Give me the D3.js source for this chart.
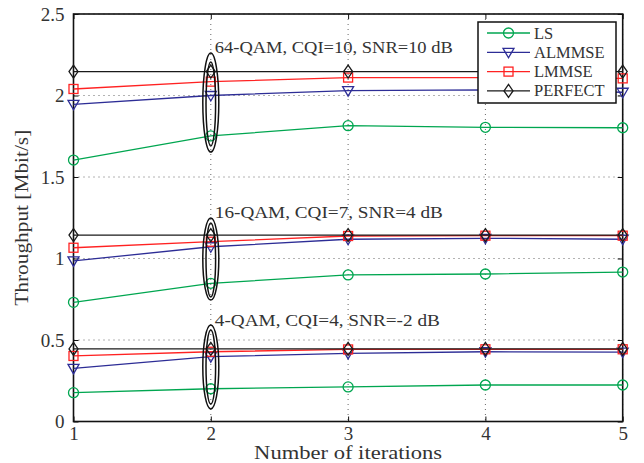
<!DOCTYPE html>
<html>
<head>
<meta charset="utf-8">
<script src="https://cdn.jsdelivr.net/npm/d3@7"></script>
<style>
html,body{margin:0;padding:0;background:#fff;}
svg{display:block;}
text{font-family:"Liberation Serif","Times New Roman",serif;fill:#333;}
</style>
</head>
<body>
<svg id="chart" width="644" height="463"></svg>
<script>
// ---- data ----
const iterations = [1, 2, 3, 4, 5];
const xTicks = [1, 2, 3, 4, 5];
const yTicks = [0, 0.5, 1, 1.5, 2, 2.5];
const yTickLabels = ["0", "0.5", "1", "1.5", "2", "2.5"];
const seriesNames = ["LS", "ALMMSE", "LMMSE", "PERFECT"];

const ls64      = [1.604, 1.752, 1.815, 1.805, 1.802];
const almmse64  = [1.946, 2.000, 2.030, 2.035, 2.020];
const lmmse64   = [2.040, 2.085, 2.110, 2.110, 2.105];
const perfect64 = [2.147, 2.147, 2.147, 2.147, 2.147];

const ls16      = [0.731, 0.848, 0.899, 0.905, 0.917];
const almmse16  = [0.985, 1.072, 1.118, 1.124, 1.118];
const lmmse16   = [1.066, 1.103, 1.138, 1.140, 1.140];
const perfect16 = [1.144, 1.144, 1.144, 1.144, 1.144];

const ls4       = [0.177, 0.201, 0.212, 0.224, 0.224];
const almmse4   = [0.326, 0.398, 0.418, 0.428, 0.426];
const lmmse4    = [0.402, 0.428, 0.442, 0.443, 0.443];
const perfect4  = [0.445, 0.445, 0.445, 0.445, 0.445];

const groupLabels = ["64-QAM, CQI=10, SNR=10 dB", "16-QAM, CQI=7, SNR=4 dB", "4-QAM, CQI=4, SNR=-2 dB"];
const groupLabelY = [2.262, 1.248, 0.586];
const ellipseX = 2;
const ellipseOuter = [[1.653, 2.26], [0.745, 1.248], [0.077, 0.592]];
const ellipseInner = [[1.69, 2.205], [0.764, 1.218], [0.107, 0.561]];

// ---- layout ----
const svg = d3.select("#chart");
const mL = 73.5, mR = 622.7, mT = 14, mB = 421.5;
const x = d3.scaleLinear().domain([1, 5]).range([mL, mR]);
const y = d3.scaleLinear().domain([0, 2.5]).range([mB, mT]);

const colors = {LS: "#00a650", ALMMSE: "#2d2d96", LMMSE: "#ff2222", PERFECT: "#1a1a1a"};

// grid
const grid = svg.append("g");
xTicks.forEach(t => {
  grid.append("line").attr("x1", x(t)).attr("x2", x(t)).attr("y1", mT).attr("y2", mB)
    .attr("stroke", "#666").attr("stroke-width", 1).attr("stroke-dasharray", "1,4");
});
yTicks.forEach(t => {
  grid.append("line").attr("x1", mL).attr("x2", mR).attr("y1", y(t)).attr("y2", y(t))
    .attr("stroke", "#666").attr("stroke-width", 1).attr("stroke-dasharray", "1,4");
});

// axes via d3
const axB = svg.append("g").attr("transform", `translate(0,${mB})`)
  .call(d3.axisBottom(x).tickValues(xTicks).tickFormat(d3.format("d")).tickSizeInner(-5).tickSizeOuter(0).tickPadding(6));
const axL = svg.append("g").attr("transform", `translate(${mL},0)`)
  .call(d3.axisLeft(y).tickValues(yTicks).tickFormat((d, i) => yTickLabels[i]).tickSizeInner(-5).tickSizeOuter(0).tickPadding(9));
const axT = svg.append("g").attr("transform", `translate(0,${mT})`)
  .call(d3.axisTop(x).tickValues(xTicks).tickFormat("").tickSizeInner(-5).tickSizeOuter(0));
const axR = svg.append("g").attr("transform", `translate(${mR},0)`)
  .call(d3.axisRight(y).tickValues(yTicks).tickFormat("").tickSizeInner(-5).tickSizeOuter(0));
[axB, axL, axT, axR].forEach(a => {
  a.select(".domain").remove();
  a.selectAll(".tick line").attr("stroke", "#111").attr("stroke-width", 1);
  a.selectAll("text").style("font-family", "'Liberation Serif', serif").style("font-size", "19px").attr("fill", "#333");
});
axB.selectAll("text").attr("dy", "0.66em");

// frame
svg.append("rect").attr("x", mL).attr("y", mT).attr("width", mR - mL).attr("height", mB - mT)
  .attr("fill", "none").attr("stroke", "#111").attr("stroke-width", 1.6);

// markers
function marker(g, name, cx, cy) {
  const c = colors[name];
  if (name === "LS") {
    g.append("circle").attr("cx", cx).attr("cy", cy).attr("r", 5).attr("fill", "none").attr("stroke", c).attr("stroke-width", 1.3);
  } else if (name === "ALMMSE") {
    g.append("path").attr("d", `M${cx-5.5},${cy-4}L${cx+5.5},${cy-4}L${cx},${cy+5.5}Z`).attr("fill", "none").attr("stroke", c).attr("stroke-width", 1.3);
  } else if (name === "LMMSE") {
    g.append("rect").attr("x", cx-4.5).attr("y", cy-4.5).attr("width", 9).attr("height", 9).attr("fill", "none").attr("stroke", c).attr("stroke-width", 1.3);
  } else {
    g.append("path").attr("d", `M${cx},${cy-6.5}L${cx+4.5},${cy}L${cx},${cy+6.5}L${cx-4.5},${cy}Z`).attr("fill", "none").attr("stroke", c).attr("stroke-width", 1.3);
  }
}

const groups = [
  {LS: ls64, ALMMSE: almmse64, LMMSE: lmmse64, PERFECT: perfect64},
  {LS: ls16, ALMMSE: almmse16, LMMSE: lmmse16, PERFECT: perfect16},
  {LS: ls4, ALMMSE: almmse4, LMMSE: lmmse4, PERFECT: perfect4}
];
const line = d3.line().x((d, i) => x(iterations[i])).y(d => y(d));
const plot = svg.append("g");
seriesNames.forEach(name => {
  groups.forEach(gr => {
    const vals = gr[name];
    plot.append("path").attr("d", line(vals)).attr("fill", "none").attr("stroke", colors[name]).attr("stroke-width", 1.3);
    const mg = plot.append("g");
    vals.forEach((v, i) => marker(mg, name, x(iterations[i]), y(v)));
  });
});

// ellipses
const ann = svg.append("g");
[ellipseOuter, ellipseInner].forEach((arr, k) => {
  arr.forEach(([lo, hi]) => {
    ann.append("ellipse").attr("cx", x(ellipseX)).attr("cy", (y(lo) + y(hi)) / 2)
      .attr("rx", k === 0 ? 8 : 4.8).attr("ry", Math.abs(y(lo) - y(hi)) / 2)
      .attr("fill", "none").attr("stroke", "#111").attr("stroke-width", 1.5);
  });
});

// group labels
const labelWidths = [238, 228, 225];
groupLabels.forEach((t, i) => {
  ann.append("text").attr("x", x(ellipseX) + 4).attr("y", y(groupLabelY[i]))
    .attr("textLength", labelWidths[i]).attr("lengthAdjust", "spacingAndGlyphs")
    .style("font-size", "16px").text(t);
});

// axis titles
svg.append("text").attr("x", (mL + mR) / 2).attr("y", 459).attr("text-anchor", "middle")
  .attr("textLength", 188).attr("lengthAdjust", "spacingAndGlyphs")
  .style("font-size", "19px").text("Number of iterations");
svg.append("text").attr("transform", `translate(28,${(mT + mB) / 2}) rotate(-90)`).attr("text-anchor", "middle")
  .attr("textLength", 176).attr("lengthAdjust", "spacingAndGlyphs")
  .style("font-size", "19px").text("Throughput [Mbit/s]");

// legend
const lg = svg.append("g");
lg.append("rect").attr("x", 478).attr("y", 22).attr("width", 138).attr("height", 81)
  .attr("fill", "#fff").attr("stroke", "#111").attr("stroke-width", 1.5);
seriesNames.forEach((name, i) => {
  const ly = 33 + i * 19.3;
  lg.append("line").attr("x1", 487).attr("x2", 530).attr("y1", ly).attr("y2", ly).attr("stroke", colors[name]).attr("stroke-width", 1.3);
  marker(lg, name, 508.5, ly);
  lg.append("text").attr("x", 534).attr("y", ly + 5.5).style("font-size", "16.5px").text(name);
});
</script>
</body>
</html>
